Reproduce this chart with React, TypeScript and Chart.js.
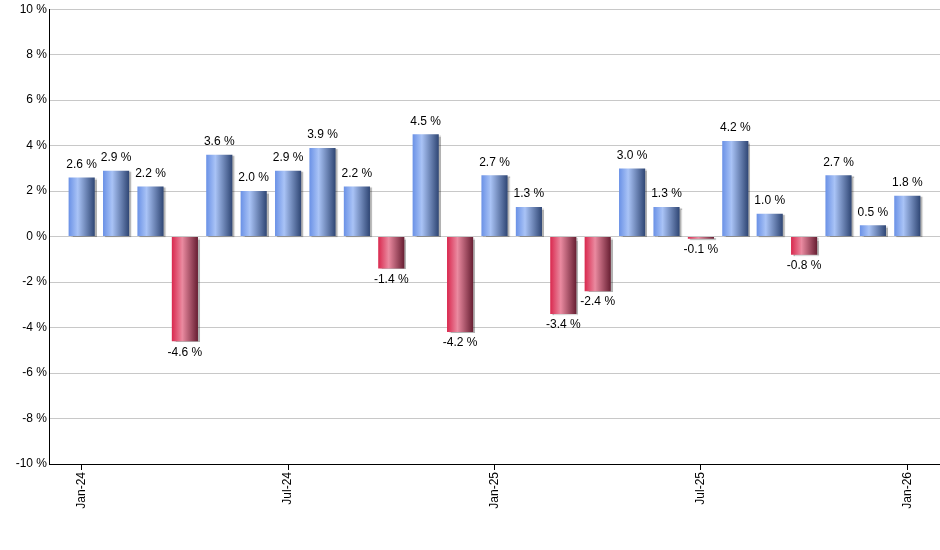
import React, {useEffect, useRef} from "react";
import {Chart, registerables} from 'chart.js';

Chart.register(...registerables);

const months: string[] = [
    'Jan-24', 'Feb-24', 'Mar-24', 'Apr-24', 'May-24', 'Jun-24', 'Jul-24', 'Aug-24', 'Sep-24', 'Oct-24', 'Nov-24', 'Dec-24',
    'Jan-25', 'Feb-25', 'Mar-25', 'Apr-25', 'May-25', 'Jun-25', 'Jul-25', 'Aug-25', 'Sep-25', 'Oct-25', 'Nov-25', 'Dec-25',
    'Jan-26',
];

const returns: number[] = [
    2.6, 2.9, 2.2, -4.6, 3.6, 2.0, 2.9, 3.9, 2.2, -1.4, 4.5, -4.2,
    2.7, 1.3, -3.4, -2.4, 3.0, 1.3, -0.1, 4.2, 1.0, -0.8, 2.7, 0.5,
    1.8,
];

const tickMonths: number[] = [0, 6, 12, 18, 24];

const BAR_PCT = 0.76;
const FONT = '"Liberation Sans", Arial, sans-serif';

const barGradient = (c: any) => {
    const chart = c.chart;
    const xs = chart.scales?.x;
    const v = returns[c.dataIndex] ?? 0;
    if (!xs || c.dataIndex === undefined) return v >= 0 ? '#7a9ee8' : '#c83a5a';
    const center = xs.getPixelForValue(c.dataIndex);
    const w = Math.abs(xs.getPixelForValue(1) - xs.getPixelForValue(0)) * BAR_PCT;
    if (!isFinite(center) || !isFinite(w) || w <= 0) return v >= 0 ? '#7a9ee8' : '#c83a5a';
    const g = chart.ctx.createLinearGradient(center - w / 2, 0, center + w / 2, 0);
    if (v >= 0) {
        g.addColorStop(0, '#6a91e6');
        g.addColorStop(0.35, '#a9c3f6');
        g.addColorStop(1, '#2f4674');
    } else {
        g.addColorStop(0, '#d9284e');
        g.addColorStop(0.4, '#ea8aa0');
        g.addColorStop(1, '#671e32');
    }
    return g;
};

// bar shadow + value labels
const barDecor = {
    id: 'barDecor',
    beforeDatasetsDraw(chart: any) {
        const ctx = chart.ctx;
        ctx.save();
        ctx.shadowColor = 'rgba(0,0,0,0.3)';
        ctx.shadowOffsetX = 2;
        ctx.shadowOffsetY = 1;
        ctx.shadowBlur = 1;
    },
    afterDatasetsDraw(chart: any) {
        const ctx = chart.ctx;
        ctx.restore();
        const meta = chart.getDatasetMeta(0);
        ctx.save();
        ctx.font = '12px ' + FONT;
        ctx.fillStyle = '#000';
        ctx.textAlign = 'center';
        ctx.textBaseline = 'middle';
        meta.data.forEach((bar: any, i: number) => {
            const v = returns[i];
            const txt = v.toFixed(1) + ' %';
            if (v >= 0) {
                ctx.fillText(txt, bar.x, bar.y - 13);
            } else {
                ctx.fillText(txt, bar.x, bar.y + 11);
            }
        });
        ctx.restore();
    },
};

const App: React.FC = () => {
    const canvasRef = useRef<HTMLCanvasElement>(null);

    useEffect(() => {
        if (!canvasRef.current) return;
        const ctx = canvasRef.current.getContext('2d');
        if (!ctx) return;
        const chart = new Chart(ctx, {
            type: 'bar',
            data: {
                datasets: [
                    {
                        label: 'Return',
                        data: returns.map((v, i) => ({x: i, y: v})),
                        backgroundColor: barGradient,
                        borderWidth: 0,
                        barPercentage: BAR_PCT,
                        categoryPercentage: 1,
                    },
                ],
            },
            options: {
                animation: false,
                responsive: true,
                maintainAspectRatio: false,
                layout: {
                    padding: {top: 9, right: 0, left: 0, bottom: 0},
                },
                plugins: {
                    legend: {display: false},
                    tooltip: {enabled: false},
                },
                scales: {
                    x: {
                        type: 'linear',
                        offset: false,
                        min: -0.95,
                        max: 24.95,
                        afterBuildTicks: (scale: any) => {
                            scale.ticks = tickMonths.map((v) => ({value: v}));
                        },
                        afterFit: (scale: any) => {
                            scale.height = 86;
                        },
                        ticks: {
                            autoSkip: false,
                            minRotation: 90,
                            maxRotation: 90,
                            padding: 2,
                            color: '#000',
                            font: {family: FONT, size: 12},
                            callback: (v: any) => months[v] ?? '',
                        },
                        grid: {
                            offset: false,
                            drawOnChartArea: false,
                            drawTicks: true,
                            tickLength: 6,
                            color: '#000',
                        },
                        border: {color: '#000', width: 1},
                    },
                    y: {
                        min: -10,
                        max: 10,
                        afterFit: (scale: any) => {
                            scale.width = 49;
                        },
                        ticks: {
                            stepSize: 2,
                            padding: 2,
                            color: '#000',
                            font: {family: FONT, size: 12},
                            callback: (v: any) => v + ' %',
                        },
                        grid: {
                            color: '#c8c8c8',
                            drawTicks: false,
                        },
                        border: {color: '#000', width: 1},
                    },
                },
            },
            plugins: [barDecor],
        });

        return () => {
            chart.destroy();
        };
    }, []);

    return (
        <div style={{position: 'fixed', left: 0, top: 0, width: 940, height: 550, background: '#fff'}}>
            <canvas ref={canvasRef}></canvas>
        </div>
    );
};

export default App;
